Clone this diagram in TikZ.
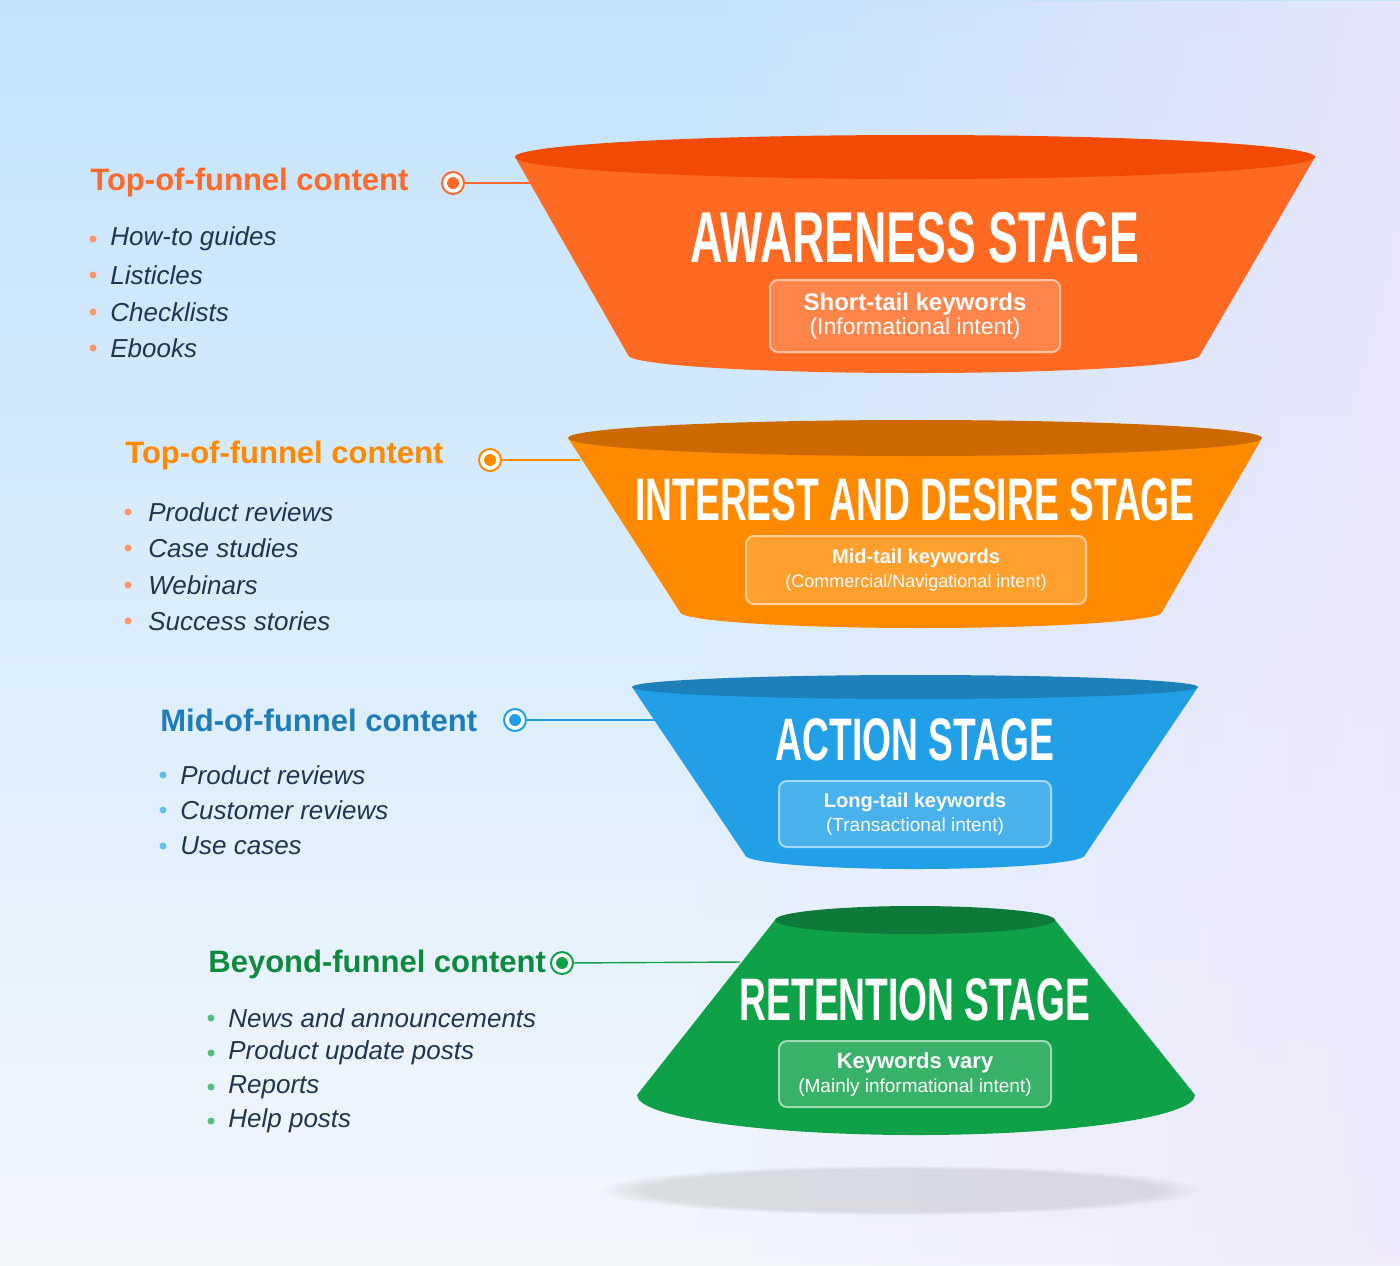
\documentclass[tikz,border=0pt]{standalone}
\usepackage{fontspec}
\setmainfont{Liberation Sans}
\usetikzlibrary{fadings}
\definecolor{o1}{HTML}{FF6A22}\definecolor{o1t}{HTML}{F24A05}
\definecolor{o2}{HTML}{FF8A00}\definecolor{o2t}{HTML}{CC6A00}
\definecolor{b3}{HTML}{21A0E8}\definecolor{b3t}{HTML}{1E80B8}
\definecolor{g4}{HTML}{0EA148}\definecolor{g4t}{HTML}{0D7A3A}
\definecolor{h1}{HTML}{FF6A2A}\definecolor{h2}{HTML}{FF8A00}
\definecolor{h3}{HTML}{1E7DB8}\definecolor{h4}{HTML}{0E8A3F}
\definecolor{txt}{HTML}{1F3550}
\definecolor{bgA}{HTML}{C4E3FB}\definecolor{bgB}{HTML}{EEE6FA}\definecolor{bgC}{HTML}{F3F7FC}
\newcommand{\stitle}[2]{\scalebox{#1}[1]{#2}}
\tikzset{
 title/.style={font=\fontsize{36}{36}\selectfont\bfseries, text=white, inner sep=0},
 kbox/.style={draw=white!60!#1, line width=1pt, fill=white!18!#1, rounded corners=4pt, align=center, text=white, inner sep=0},
 head/.style={font=\fontsize{15.5}{15.5}\selectfont\bfseries, text=#1, anchor=west, inner sep=0},
 item/.style={font=\fontsize{13}{13}\selectfont\itshape, text=txt, anchor=west, inner sep=0},
 dot/.style={circle, draw=#1, line width=1pt, fill=white, minimum size=11pt, inner sep=0, path picture={\fill[#1] (path picture bounding box.center) circle (3pt);}},
 bul/.style={circle, fill=#1!70, minimum size=3.5pt, inner sep=0},
 conn/.style={draw=#1, line width=0.7pt}
}
\begin{document}
\begin{tikzpicture}[x=0.5pt,y=-0.5pt]
\shade[top color=bgA, bottom color=bgC] (0,0) rectangle (1400,1265);
\fill[bgB, path fading=west, opacity=0.8] (700,0) rectangle (1400,1265);
\fill[black!35, opacity=0.3, path fading=circle with fuzzy edge 15 percent] (900,1190) ellipse (300 and 25);
% funnel 1
\fill[o1] (515,157) -- (628,355) arc[start angle=180,end angle=0,x radius=286,y radius=18] -- (1315,157) -- cycle;
\fill[o1t] (915,157) ellipse (400 and 22);
% funnel 2
\fill[o2] (568,438) -- (680,612) arc[start angle=180,end angle=0,x radius=241,y radius=16] -- (1262,438) -- cycle;
\fill[o2t] (915,438) ellipse (347 and 18);
% funnel 3
\fill[b3] (632,687) -- (745,855) arc[start angle=180,end angle=0,x radius=170,y radius=14] -- (1198,687) -- cycle;
\fill[b3t] (915,687) ellipse (283 and 12);
% funnel 4
\fill[g4] (775,920) -- (637,1095) arc[start angle=180,end angle=0,x radius=279,y radius=40] -- (1055,920) -- cycle;
\fill[g4t] (915,920) ellipse (140 and 14);
% titles
\node[title] (t1) at (915,238) {\stitle{0.62}{AWARENESS STAGE}};
\node[title, font=\fontsize{30}{30}\selectfont\bfseries] (t2) at (915,500) {\stitle{0.62}{INTEREST AND DESIRE STAGE}};
\node[title, font=\fontsize{30}{30}\selectfont\bfseries] (t3) at (915,740) {\stitle{0.62}{ACTION STAGE}};
\node[title, font=\fontsize{30}{30}\selectfont\bfseries] (t4) at (915,1000) {\stitle{0.62}{RETENTION STAGE}};
% keyword boxes
\node[kbox=o1, minimum width=145pt, minimum height=36pt] (k1) at (915,316) {\fontsize{12}{14}\selectfont\bfseries Short-tail keywords\\\fontsize{11.5}{14}\selectfont(Informational intent)};
\node[kbox=o2, minimum width=170pt, minimum height=34pt] (k2) at (916,570) {\fontsize{10}{13}\selectfont\bfseries Mid-tail keywords\\\fontsize{9}{13}\selectfont(Commercial/Navigational intent)};
\node[kbox=b3, minimum width=136pt, minimum height=33pt] (k3) at (915,814) {\fontsize{10}{12}\selectfont\bfseries Long-tail keywords\\\fontsize{9.5}{12}\selectfont(Transactional intent)};
\node[kbox=g4, minimum width=136pt, minimum height=33pt] (k4) at (915,1074) {\fontsize{11}{12}\selectfont\bfseries Keywords vary\\\fontsize{9.5}{12}\selectfont(Mainly informational intent)};
% left group 1
\node[head=h1] (L1) at (90,182) {Top-of-funnel content};
\node[dot=h1] (d1) at (453,183) {};
\coordinate (e1) at (530,183);
\draw[conn=h1] (d1) -- (e1);
\foreach \t/\y [count=\i] in {How-to guides/239,Listicles/275,Checklists/312,Ebooks/348}{
 \node[bul=h1] (b1\i) at (93,\y) {}; \node[item] (i1\i) at (110,\y) {\t};}
% group 2
\node[head=h2] (L2) at (125,455) {Top-of-funnel content};
\node[dot=h2] (d2) at (490,460) {};
\coordinate (e2) at (580,460);
\draw[conn=h2] (d2) -- (e2);
\foreach \t/\y [count=\i] in {Product reviews/512,Case studies/548,Webinars/585,Success stories/621}{
 \node[bul=h1] (b2\i) at (128,\y) {}; \node[item] (i2\i) at (148,\y) {\t};}
% group 3
\node[head=h3] (L3) at (160,720) {Mid-of-funnel content};
\node[dot=b3] (d3) at (515,720) {};
\coordinate (e3) at (655,720);
\draw[conn=b3] (d3) -- (e3);
\foreach \t/\y [count=\i] in {Product reviews/775,Customer reviews/810,Use cases/846}{
 \node[bul=b3] (b3\i) at (163,\y) {}; \node[item] (i3\i) at (180,\y) {\t};}
% group 4
\node[head=h4] (L4) at (208,964) {Beyond-funnel content};
\node[dot=g4] (d4) at (562,963) {};
\coordinate (e4) at (740,962);
\draw[conn=g4] (d4) -- (e4);
\foreach \t/\y [count=\i] in {News and announcements/1018,Product update posts/1053,Reports/1087,Help posts/1121}{
 \node[bul=g4] (b4\i) at (211,\y) {}; \node[item] (i4\i) at (228,\y) {\t};}
\end{tikzpicture}
\end{document}
